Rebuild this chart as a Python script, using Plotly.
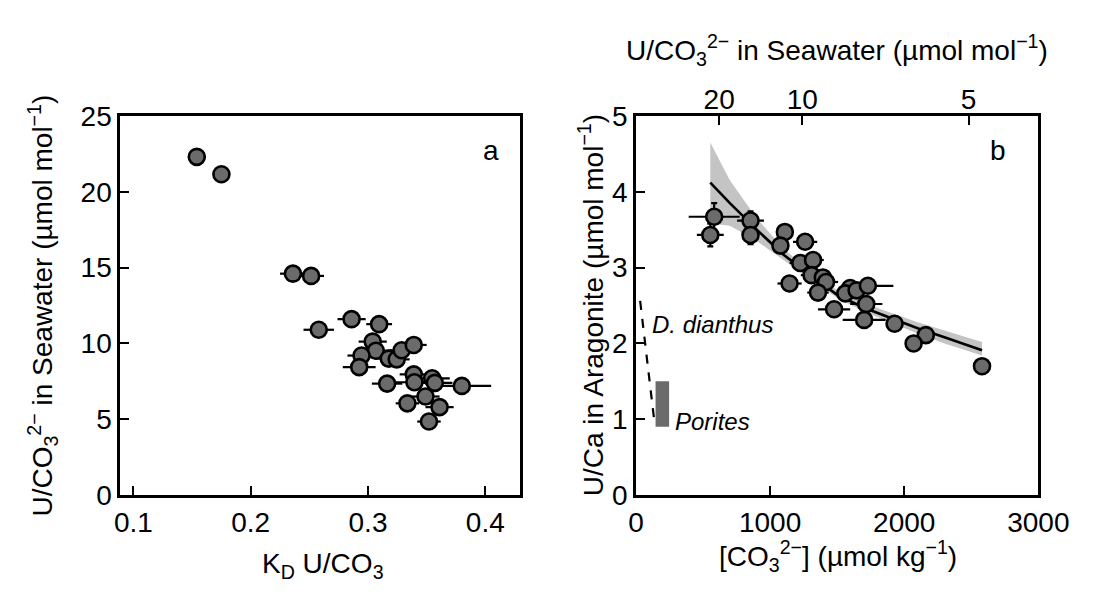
import plotly.graph_objects as go

# ---------------- Panel a data ----------------
kd_a = [0.154, 0.175, 0.236, 0.2515, 0.258, 0.286, 0.3095, 0.304, 0.3067, 0.2945, 0.2925,
        0.3177, 0.3245, 0.3287, 0.339, 0.3163, 0.339, 0.3396, 0.3547, 0.3570, 0.349,
        0.3336, 0.352, 0.361, 0.380]
useaw_a = [22.3, 21.15, 14.6, 14.45, 10.9, 11.6, 11.27, 10.12, 9.52, 9.2, 8.44,
           9.0, 8.95, 9.55, 9.9, 7.35, 7.96, 7.44, 7.7, 7.4, 6.5,
           6.05, 4.85, 5.8, 7.2]
kd_err_a = [0.0, 0.006, 0.011, 0.011, 0.013, 0.012, 0.011, 0.012, 0.012, 0.012, 0.014,
            0.012, 0.011, 0.01, 0.011, 0.013, 0.012, 0.02, 0.015, 0.015, 0.012,
            0.01, 0.01, 0.012, 0.025]

# ---------------- Panel b data ----------------
co3_b = [583, 554, 854, 854, 1110, 1077, 1261, 1225, 1320, 1145, 1309, 1393, 1417,
         1357, 1477, 1597, 1561, 1645, 1729, 1717, 1701, 1928, 2161, 2070, 2580]
uca_b = [3.67, 3.43, 3.62, 3.43, 3.47, 3.29, 3.34, 3.06, 3.10, 2.79, 2.90, 2.87, 2.81,
         2.67, 2.45, 2.73, 2.66, 2.70, 2.76, 2.52, 2.31, 2.26, 2.11, 2.00, 1.70]
co3_err_b = [190, 100, 100, 60, 60, 60, 90, 80, 80, 90, 80, 80, 90,
             80, 120, 80, 80, 80, 190, 120, 160, 60, 60, 60, 60]
uca_err_b = [0.18, 0.15, 0.12, 0.12, 0.06, 0.06, 0.06, 0.06, 0.06, 0.06, 0.06, 0.06, 0.06,
             0.06, 0.06, 0.06, 0.06, 0.06, 0.06, 0.06, 0.06, 0.06, 0.06, 0.06, 0.06]

fit_co3 = [554, 700, 900, 1100, 1300, 1500, 1700, 1900, 2100, 2300, 2580]
fit_uca = [4.12, 3.85, 3.50, 3.17, 2.90, 2.64, 2.47, 2.33, 2.20, 2.08, 1.91]
band_hi = [4.65, 4.15, 3.65, 3.25, 2.95, 2.70, 2.53, 2.40, 2.28, 2.17, 2.02]
band_lo = [3.58, 3.55, 3.35, 3.10, 2.85, 2.60, 2.42, 2.27, 2.13, 2.00, 1.84]

dianthus_co3 = [31, 141]
dianthus_uca = [2.56, 0.91]
porites_co3 = [146, 247]
porites_uca = [0.90, 1.50]

top_ticks_ratio = [20, 10, 5]
U_SEAWATER = 12400  # conversion constant: U/CO3 = U_SEAWATER / [CO3]

FONT = "Liberation Sans, Arial, Helvetica, sans-serif"
MARKER_FILL = "#6b6b6b"
FS = 28

fig = go.Figure()

# Panel a
fig.add_trace(go.Scatter(
    x=kd_a, y=useaw_a, mode="markers",
    error_x=dict(type="data", array=kd_err_a, color="black", thickness=2.2, width=0),
    marker=dict(size=16, color=MARKER_FILL, line=dict(color="black", width=2.6)),
    xaxis="x", yaxis="y", showlegend=False))

# Panel b band + fit
fig.add_trace(go.Scatter(
    x=fit_co3 + fit_co3[::-1], y=band_hi + band_lo[::-1], fill="toself",
    fillcolor="rgba(190,190,190,0.9)", line=dict(width=0), mode="lines",
    xaxis="x2", yaxis="y2", showlegend=False, hoverinfo="skip"))
fig.add_trace(go.Scatter(
    x=fit_co3, y=fit_uca, mode="lines", line=dict(color="black", width=2.6),
    xaxis="x2", yaxis="y2", showlegend=False))
fig.add_trace(go.Scatter(
    x=co3_b, y=uca_b, mode="markers",
    error_x=dict(type="data", array=co3_err_b, color="black", thickness=2.2, width=0),
    error_y=dict(type="data", array=uca_err_b, color="black", thickness=2.2, width=3),
    marker=dict(size=16, color=MARKER_FILL, line=dict(color="black", width=2.6)),
    xaxis="x2", yaxis="y2", showlegend=False))
fig.add_trace(go.Scatter(
    x=dianthus_co3, y=dianthus_uca, mode="lines",
    line=dict(color="black", width=2.2, dash="dash"),
    xaxis="x2", yaxis="y2", showlegend=False))
# invisible trace to activate top axis
fig.add_trace(go.Scatter(x=[0, 3000], y=[None, None], xaxis="x3", yaxis="y2",
                         showlegend=False, hoverinfo="skip"))

fig.add_shape(type="rect", xref="x2", yref="y2",
              x0=porites_co3[0], x1=porites_co3[1], y0=porites_uca[0], y1=porites_uca[1],
              fillcolor=MARKER_FILL, line=dict(width=0))

tickfont = dict(family=FONT, size=FS, color="black")
axis_common = dict(showline=True, linecolor="black", linewidth=2.7, mirror=True,
                   ticks="inside", ticklen=9, tickwidth=2.2, tickcolor="black",
                   showgrid=False, zeroline=False, tickfont=tickfont)

fig.update_layout(
    width=1097, height=596, margin=dict(l=0, r=0, t=0, b=0),
    paper_bgcolor="white", plot_bgcolor="white",
    font=dict(family=FONT, color="black"),
    xaxis=dict(domain=[0.0985, 0.4768], range=[0.0887, 0.43],
               tickvals=[0.1, 0.2, 0.3, 0.4], ticktext=["0.1", "0.2", "0.3", "0.4"],
               anchor="y", **axis_common),
    yaxis=dict(domain=[0.1644, 0.8356], range=[0, 25], tickvals=[0, 5, 10, 15, 20, 25],
               anchor="x", **axis_common),
    xaxis2=dict(domain=[0.586, 0.9663], range=[0, 3000], tickvals=[0, 1000, 2000, 3000],
                anchor="y2", **axis_common),
    yaxis2=dict(domain=[0.1644, 0.8356], range=[0, 5], tickvals=[0, 1, 2, 3, 4, 5],
                anchor="x2", **axis_common),
    xaxis3=dict(overlaying="x2", side="top", range=[0, 3000], anchor="y2",
                tickvals=[U_SEAWATER / r for r in top_ticks_ratio],
                ticktext=[str(r) for r in top_ticks_ratio],
                showline=False, ticks="inside", ticklen=9, tickwidth=2.2, tickcolor="black",
                showgrid=False, zeroline=False, tickfont=tickfont),
)

W, H = 1097, 596
def ann(text, px, py, size=FS, angle=0, xanchor="center"):
    fig.add_annotation(text=text, x=px / W, y=1 - py / H, xref="paper", yref="paper",
                       showarrow=False, textangle=angle, xanchor=xanchor, yanchor="middle",
                       font=dict(family=FONT, size=size, color="black"))

# axis titles
ann("K<sub>D</sub> U/CO<sub>3</sub>", 318, 572)
ann("[CO<sub>3</sub><sup>2−</sup>] (µmol kg<sup>−1</sup>)", 852, 562)
ann("U/CO<sub>3</sub><sup>2−</sup> in Seawater (µmol mol<sup>−1</sup>)", 851, 28)
ann("U/CO<sub>3</sub><sup>2−</sup> in Seawater (µmol mol<sup>−1</sup>)", 27, 298, angle=-90)
ann("U/Ca in Aragonite (µmol mol<sup>−1</sup>)", 596, 298, angle=-90)

# panel letters
fig.add_annotation(text="a", x=0.405, y=22.7, xref="x", yref="y", showarrow=False,
                   font=dict(family=FONT, size=FS, color="black"))
fig.add_annotation(text="b", x=2700, y=4.55, xref="x2", yref="y2", showarrow=False,
                   font=dict(family=FONT, size=FS, color="black"))
fig.add_annotation(text="<i>D. dianthus</i>", x=108, y=2.25, xref="x2", yref="y2",
                   xanchor="left", showarrow=False,
                   font=dict(family=FONT, size=24, color="black"))
fig.add_annotation(text="<i>Porites</i>", x=278, y=0.97, xref="x2", yref="y2",
                   xanchor="left", showarrow=False,
                   font=dict(family=FONT, size=24, color="black"))

fig.write_html("out.html")
